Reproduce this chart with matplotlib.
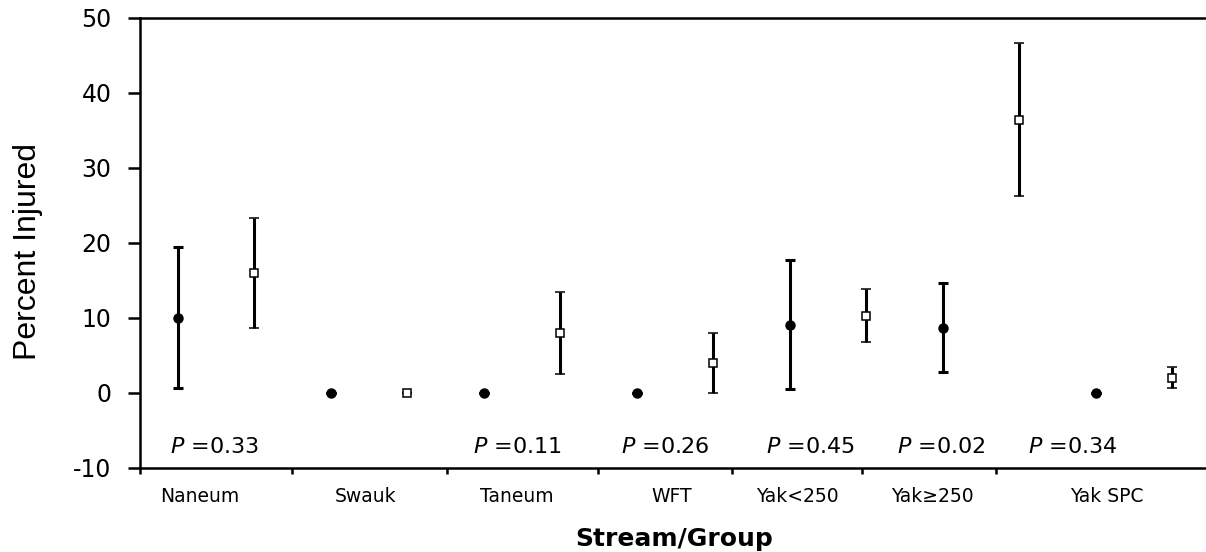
import numpy as np
import matplotlib
matplotlib.use("Agg")
import matplotlib.pyplot as plt

plt.rcParams['font.family'] = ['DejaVu Sans']
plt.rcParams['axes.unicode_minus'] = False
plt.rcParams['mathtext.fontset'] = 'dejavusans'

# data
groups = ["Naneum", "Swauk", "Taneum", "WFT", "Yak<250", "Yak≥250", "Yak SPC"]
filled_val = [10.0, 0.0, 0.0, 0.0, 9.0, 8.7, 0.0]
filled_lo = [0.6, 0.0, 0.0, 0.0, 0.5, 2.8, 0.0]
filled_hi = [19.5, 0.0, 0.0, 0.0, 17.7, 14.7, 0.0]
open_val = [16.0, 0.0, 8.0, 4.0, 10.3, 36.4, 2.0]
open_lo = [8.7, 0.0, 2.5, 0.0, 6.8, 26.3, 0.7]
open_hi = [23.3, 0.0, 13.4, 8.0, 13.8, 46.7, 3.4]
p_labels = ["0.33", None, "0.11", "0.26", "0.45", "0.02", "0.34"]

# layout helpers (category positions in point-index units)
p_x = [-0.1, None, 3.86, 5.8, 7.69, 9.4, 11.11]
label_x = [0.29, 2.46, 4.43, 6.46, 8.1, 9.87, 12.14]
tick_x = [-0.49, 1.5, 3.52, 5.5, 7.24, 8.95, 10.69]

fig = plt.figure(figsize=(12.06, 5.52), dpi=100)
ax = fig.add_axes([0.1161, 0.1522, 0.8839, 0.8152])

xf = np.arange(len(groups)) * 2
xo = xf + 1
fv = np.array(filled_val)
ov = np.array(open_val)
ferr = [fv - np.array(filled_lo), np.array(filled_hi) - fv]
oerr = [ov - np.array(open_lo), np.array(open_hi) - ov]

ax.errorbar(xf, fv, yerr=ferr, fmt='o', color='black', ms=6.5,
            elinewidth=2.2, capsize=3.6, capthick=2.2)
ax.errorbar(xo, ov, yerr=oerr, fmt='s', color='black', mfc='white', mec='black',
            mew=1.1, ms=5.5, elinewidth=2.2, capsize=3.6, capthick=2.2)

for xp, p in zip(p_x, p_labels):
    if p is None:
        continue
    ax.text(xp, -7.2, r"$\it{P}$ =" + p, fontsize=16, va='center', ha='left')

ax.set_xlim(-0.49, 13.44)
ax.set_ylim(-10, 50)
ax.set_yticks(np.arange(-10, 51, 10))
ax.set_xticks(tick_x)
ax.set_xticklabels([])
ax.tick_params(axis='y', direction='out', length=8.5, width=1.8, labelsize=17, pad=12)
ax.tick_params(axis='x', direction='out', length=4, width=1.8)

for xl, g in zip(label_x, groups):
    ax.text(xl, -13.85, g, fontsize=13.5, ha='center', va='center')

for s in ['left', 'bottom', 'top']:
    ax.spines[s].set_linewidth(1.8)
ax.spines['right'].set_visible(False)

fig.text(0.023, 0.545, "Percent Injured", rotation=90, fontsize=23, ha='center', va='center',
         family=['Liberation Sans Narrow', 'Liberation Sans'])
fig.text(0.559, 0.024, "Stream/Group", fontsize=18, fontweight='bold', ha='center', va='center')

fig.savefig("out.png", dpi=100)
